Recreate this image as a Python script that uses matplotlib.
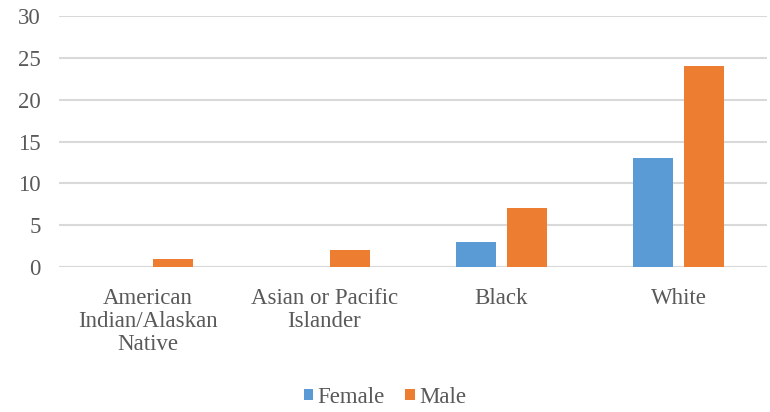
import numpy as np
import matplotlib.pyplot as plt

# chart data
categories = ["American\nIndian/Alaskan\nNative", "Asian or Pacific\nIslander", "Black", "White"]
female = [0, 0, 3, 13]
male = [1, 2, 7, 24]
yticks = [0, 5, 10, 15, 20, 25, 30]

plt.rcParams['font.family'] = 'serif'
plt.rcParams['font.serif'] = ['Liberation Serif', 'Times New Roman', 'DejaVu Serif']

fig = plt.figure(figsize=(7.7, 4.12), dpi=100)
ax = fig.add_axes([59 / 770, 1 - 267 / 412, (767 - 59) / 770, (267 - 16) / 412])

x = np.arange(len(categories))
w = 0.225
off = 0.143
ax.bar(x - off, female, w, color="#5B9BD5", label="Female", zorder=3)
ax.bar(x + off, male, w, color="#ED7D31", label="Male", zorder=3)

ax.set_xlim(-0.5, len(categories) - 0.5)
ax.set_ylim(0, 30)
ax.set_yticks(yticks)
ax.yaxis.grid(True, color="#D9D9D9", linewidth=1.5, zorder=0)
for s in ax.spines.values():
    s.set_visible(False)
ax.axhline(0, color="#D9D9D9", linewidth=1.5, zorder=2)

ax.set_xticks(x)
ax.set_xticklabels(categories, linespacing=1.12)
ax.tick_params(axis='both', length=0, labelsize=16.5, labelcolor="#595959")
ax.tick_params(axis='x', pad=15)
ax.tick_params(axis='y', pad=13)

leg = fig.legend(loc="lower center", bbox_to_anchor=(0.5, -0.04), ncol=2, frameon=False,
                 fontsize=16.5, handlelength=0.4, handleheight=0.4, handletextpad=0.2,
                 columnspacing=0.9)
for t in leg.get_texts():
    t.set_color("#595959")

fig.savefig("out.png", dpi=100)
